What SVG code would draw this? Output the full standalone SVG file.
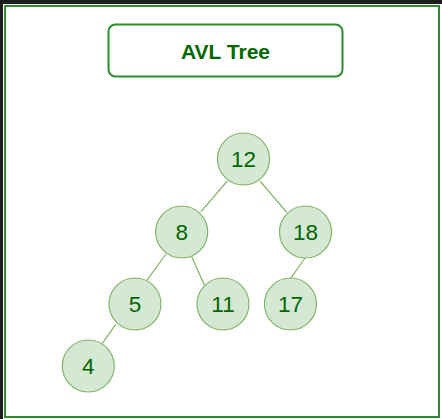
<svg xmlns="http://www.w3.org/2000/svg" width="442" height="419" viewBox="0 0 442 419">
<style>
.node circle{fill:#d5e8d4;stroke:#82b366;stroke-width:1.2}
.node text{font-family:"Liberation Sans",Arial,sans-serif;font-size:22.5px;fill:#006600;text-anchor:middle;dominant-baseline:central}
.edges line{stroke:#82b366;stroke-width:1.2}
</style>
<rect x="0" y="0" width="442" height="419" fill="#1b1d1f"/>
<rect x="3" y="4" width="439" height="415" fill="#ffffff"/>
<rect x="5" y="6" width="434" height="411" fill="none" stroke="#2e8b2e" stroke-width="2"/>
<g id="title">
<rect x="108.5" y="24.5" width="234" height="52" rx="7" fill="#ffffff" stroke="#2e8b2e" stroke-width="2"/>
<text x="225.5" y="51" font-family="'Liberation Sans',Arial,sans-serif" font-size="21" font-weight="bold" fill="#006600" text-anchor="middle" dominant-baseline="central">AVL Tree</text>
</g>
<g class="edges" id="connectors">
<line x1="227.3" y1="181" x2="201" y2="211.7"/>
<line x1="260" y1="181" x2="286.7" y2="212.3"/>
<line x1="166" y1="254" x2="146.7" y2="280.7"/>
<line x1="191.7" y1="256.7" x2="204.3" y2="285"/>
<line x1="305" y1="258" x2="290.7" y2="278.3"/>
<line x1="115.7" y1="324.3" x2="102.3" y2="343.3"/>
</g>
<g class="node" id="n12"><circle cx="243.5" cy="159" r="26"/><text x="243.5" y="159">12</text></g>
<g class="node" id="n8"><circle cx="181.7" cy="232" r="26"/><text x="181.7" y="232">8</text></g>
<g class="node" id="n18"><circle cx="305.5" cy="232" r="26"/><text x="305.5" y="232">18</text></g>
<g class="node" id="n5"><circle cx="135" cy="304" r="26"/><text x="135" y="304">5</text></g>
<g class="node" id="n11"><circle cx="223" cy="304" r="26"/><text x="223" y="304">11</text></g>
<g class="node" id="n17"><circle cx="290.5" cy="304" r="26"/><text x="290.5" y="304">17</text></g>
<g class="node" id="n4"><circle cx="88.3" cy="366" r="26"/><text x="88.3" y="366">4</text></g>
</svg>
